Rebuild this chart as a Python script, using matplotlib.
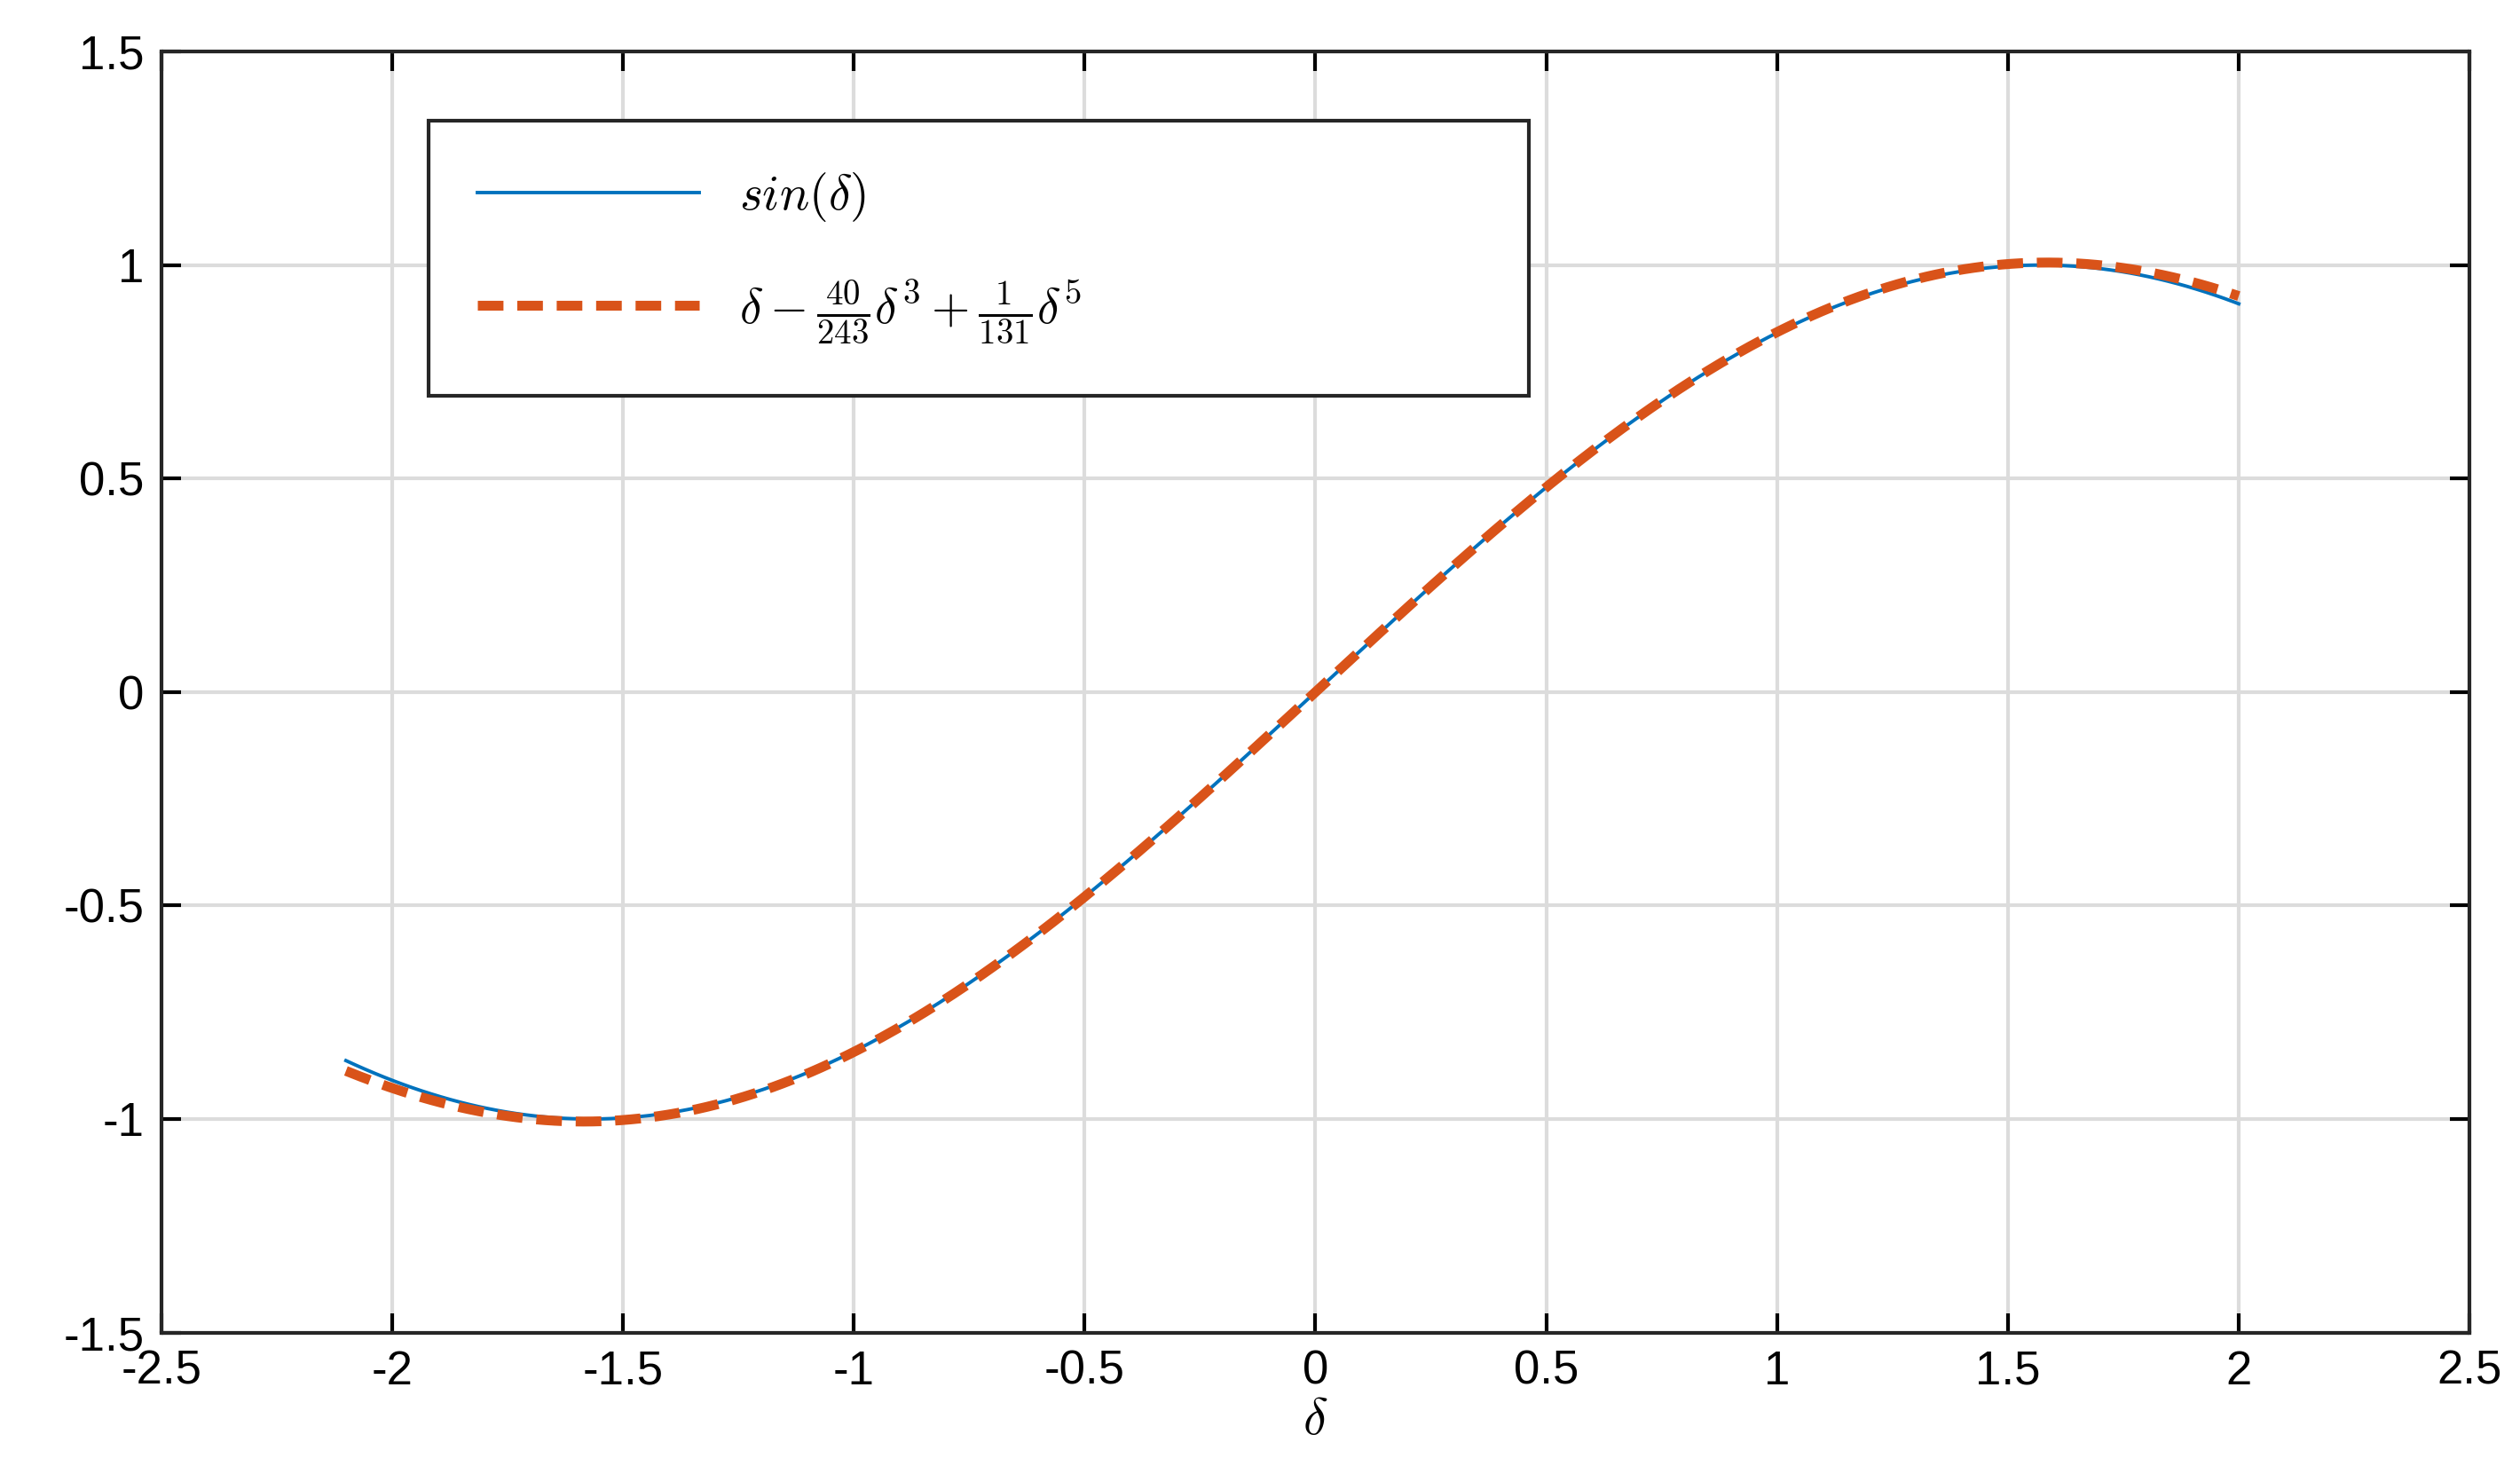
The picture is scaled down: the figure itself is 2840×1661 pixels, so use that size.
import matplotlib.pyplot as plt
import numpy as np

# curve parameters taken from the legend text
delta = np.linspace(-2.1, 2.0, 400)
c3 = 40 / 243
c5 = 1 / 131
sin_vals = np.sin(delta)
approx_vals = delta - c3 * delta**3 + c5 * delta**5

xticks = [-2.5, -2, -1.5, -1, -0.5, 0, 0.5, 1, 1.5, 2, 2.5]
yticks = [-1.5, -1, -0.5, 0, 0.5, 1, 1.5]

plt.rcParams['font.family'] = ['Liberation Sans', 'DejaVu Sans']
plt.rcParams['mathtext.fontset'] = 'cm'

fig = plt.figure(figsize=(28.4, 16.61), dpi=100)
ax = fig.add_axes([0.064, 0.096, 0.916, 0.869])

ax.plot(delta, sin_vals, color='#0072BD', lw=2.8, label=r'$sin(\delta)$')
ax.plot(delta, approx_vals, color='#D95319', lw=8, dashes=(2.6, 1.4),
        label=r'$\delta - \frac{40}{243}\delta^3 + \frac{1}{131}\delta^5$')

ax.set_xlim(-2.5, 2.5)
ax.set_ylim(-1.5, 1.5)
ax.set_xticks(xticks)
ax.set_yticks(yticks)
ax.set_xticklabels([f'{t:g}' for t in xticks])
ax.set_yticklabels([f'{t:g}' for t in yticks])
ax.tick_params(direction='in', length=16, width=3, top=True, right=True,
               labelsize=38, pad=14)
ax.grid(True, color='#dcdcdc', lw=3)
ax.set_axisbelow(True)
for s in ax.spines.values():
    s.set_linewidth(3)
    s.set_color('#262626')
ax.set_xlabel(r'$\delta$', fontsize=42, labelpad=2)

leg = ax.legend(loc='upper left', bbox_to_anchor=(0.105, 0.728, 0.498, 0.237),
                mode='expand', fontsize=40, handlelength=4.5, labelspacing=1.1,
                borderpad=1.0, fancybox=False, framealpha=1, edgecolor='#262626')
leg.get_frame().set_linewidth(3)

fig.savefig('out.png')
